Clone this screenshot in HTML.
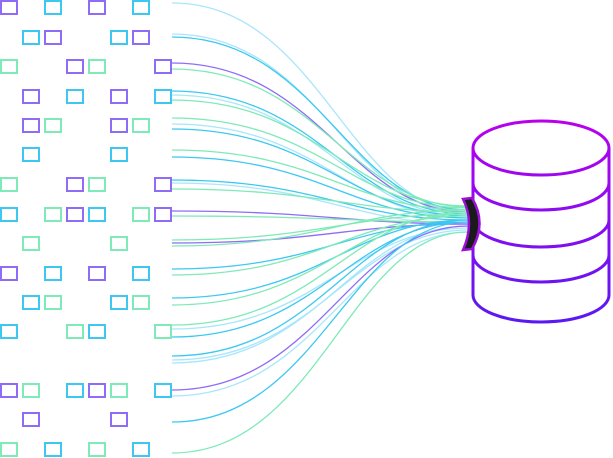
<!DOCTYPE html>
<html><head><meta charset="utf-8"><style>html,body{margin:0;padding:0;background:#fff;width:613px;height:458px;overflow:hidden}svg{display:block}</style></head><body>
<svg width="613" height="458" viewBox="0 0 613 458" xmlns="http://www.w3.org/2000/svg">
<defs>
<linearGradient id="g" gradientUnits="userSpaceOnUse" x1="0" y1="120" x2="0" y2="323"><stop offset="0" stop-color="#b800ee"/><stop offset="1" stop-color="#5a18f2"/></linearGradient>
</defs>
<g fill="none" stroke-width="2">
<g stroke="#8e6cf7">
<rect x="1" y="1" width="16" height="13"/><rect x="89" y="1" width="16" height="13"/>
<rect x="45" y="31" width="16" height="13"/><rect x="133" y="31" width="16" height="13"/>
<rect x="67" y="60" width="16" height="13"/><rect x="155" y="60" width="16" height="13"/>
<rect x="23" y="90" width="16" height="13"/><rect x="111" y="90" width="16" height="13"/>
<rect x="23" y="119" width="16" height="13"/><rect x="111" y="119" width="16" height="13"/>
<rect x="67" y="178" width="16" height="13"/><rect x="155" y="178" width="16" height="13"/>
<rect x="67" y="208" width="16" height="13"/><rect x="155" y="208" width="16" height="13"/>
<rect x="1" y="267" width="16" height="13"/><rect x="89" y="267" width="16" height="13"/>
<rect x="1" y="384" width="16" height="13"/><rect x="89" y="384" width="16" height="13"/>
<rect x="23" y="413" width="16" height="13"/><rect x="111" y="413" width="16" height="13"/>
</g>
<g stroke="#3cc8f0">
<rect x="45" y="1" width="16" height="13"/><rect x="133" y="1" width="16" height="13"/>
<rect x="23" y="31" width="16" height="13"/><rect x="111" y="31" width="16" height="13"/>
<rect x="67" y="90" width="16" height="13"/><rect x="155" y="90" width="16" height="13"/>
<rect x="23" y="148" width="16" height="13"/><rect x="111" y="148" width="16" height="13"/>
<rect x="1" y="208" width="16" height="13"/><rect x="89" y="208" width="16" height="13"/>
<rect x="45" y="267" width="16" height="13"/><rect x="133" y="267" width="16" height="13"/>
<rect x="23" y="296" width="16" height="13"/><rect x="111" y="296" width="16" height="13"/>
<rect x="1" y="325" width="16" height="13"/><rect x="89" y="325" width="16" height="13"/>
<rect x="67" y="384" width="16" height="13"/><rect x="155" y="384" width="16" height="13"/>
<rect x="45" y="443" width="16" height="13"/><rect x="133" y="443" width="16" height="13"/>
</g>
<g stroke="#7eeab8">
<rect x="1" y="60" width="16" height="13"/><rect x="89" y="60" width="16" height="13"/>
<rect x="45" y="119" width="16" height="13"/><rect x="133" y="119" width="16" height="13"/>
<rect x="1" y="178" width="16" height="13"/><rect x="89" y="178" width="16" height="13"/>
<rect x="45" y="208" width="16" height="13"/><rect x="133" y="208" width="16" height="13"/>
<rect x="23" y="237" width="16" height="13"/><rect x="111" y="237" width="16" height="13"/>
<rect x="45" y="296" width="16" height="13"/><rect x="133" y="296" width="16" height="13"/>
<rect x="67" y="325" width="16" height="13"/><rect x="155" y="325" width="16" height="13"/>
<rect x="23" y="384" width="16" height="13"/><rect x="111" y="384" width="16" height="13"/>
<rect x="1" y="443" width="16" height="13"/><rect x="89" y="443" width="16" height="13"/>
</g>
</g>
<g fill="none" stroke-width="1.3">
<path d="M172,3 C320,3 350,212 468,212" stroke="#a8e6fb"/>
<path d="M172,34 C320,34 350,214 468,214" stroke="#a8e6fb"/>
<path d="M172,37 C320,37 350,210 468,210" stroke="#3cc8f0"/>
<path d="M172,63 C320,63 350,212 468,212" stroke="#8e6cf7"/>
<path d="M172,69 C320,69 350,207 468,207" stroke="#7eeab8"/>
<path d="M172,91 C320,91 350,214 468,214" stroke="#3cc8f0"/>
<path d="M172,95 C320,95 350,216 468,216" stroke="#a8e6fb"/>
<path d="M172,100 C320,100 350,206 468,206" stroke="#7eeab8"/>
<path d="M172,118 C320,118 350,208 468,208" stroke="#7eeab8"/>
<path d="M172,124 C320,124 350,218 468,218" stroke="#a8e6fb"/>
<path d="M172,129 C320,129 350,216 468,216" stroke="#3cc8f0"/>
<path d="M172,150 C320,150 350,210 468,210" stroke="#7eeab8"/>
<path d="M172,157 C320,157 350,218 468,218" stroke="#3cc8f0"/>
<path d="M172,180 C320,180 350,220 468,220" stroke="#3cc8f0"/>
<path d="M172,183 C320,183 350,224 468,224" stroke="#a8e6fb"/>
<path d="M172,189 C320,189 350,212 468,212" stroke="#7eeab8"/>
<path d="M172,211 C320,211 350,224 468,224" stroke="#8e6cf7"/>
<path d="M172,216 C320,216 350,222 468,222" stroke="#7eeab8"/>
<path d="M172,240 C320,240 350,214 468,214" stroke="#7eeab8"/>
<path d="M172,243 C320,243 350,224 468,224" stroke="#8e6cf7"/>
<path d="M172,246 C320,246 350,210 468,210" stroke="#7eeab8"/>
<path d="M172,269 C320,269 350,222 468,222" stroke="#3cc8f0"/>
<path d="M172,275 C320,275 350,216 468,216" stroke="#7eeab8"/>
<path d="M172,298 C320,298 350,220 468,220" stroke="#3cc8f0"/>
<path d="M172,305 C320,305 350,214 468,214" stroke="#7eeab8"/>
<path d="M172,325 C320,325 350,212 468,212" stroke="#7eeab8"/>
<path d="M172,329 C320,329 350,228 468,228" stroke="#a8e6fb"/>
<path d="M172,337 C320,337 350,222 468,222" stroke="#3cc8f0"/>
<path d="M172,356 C320,356 350,220 468,220" stroke="#3cc8f0"/>
<path d="M172,360 C320,360 350,230 468,230" stroke="#a8e6fb"/>
<path d="M172,363 C320,363 350,226 468,226" stroke="#a8e6fb"/>
<path d="M172,390 C320,390 350,226 468,226" stroke="#8e6cf7"/>
<path d="M172,396 C320,396 350,232 468,232" stroke="#a8e6fb"/>
<path d="M172,422 C320,422 350,222 468,222" stroke="#3cc8f0"/>
<path d="M172,453 C320,453 350,232 468,232" stroke="#7eeab8"/>
</g>
<g fill="none" stroke="url(#g)" stroke-width="3">
<ellipse cx="541" cy="148" rx="68" ry="27"/>
<path d="M473,148 L473,295 A68,27 0 0 0 609,295 L609,148"/>
<path d="M473,183 A68,27 0 0 0 609,183"/>
<path d="M473,220 A68,27 0 0 0 609,220"/>
<path d="M473,255 A68,27 0 0 0 609,255"/>
</g>
<path d="M463,199 L472,198 Q487,223 472,249 L463,250 Q475,223 463,199 Z" fill="#1a1a1a" stroke="#9a10d8" stroke-width="2.5"/>
</svg>
</body></html>
